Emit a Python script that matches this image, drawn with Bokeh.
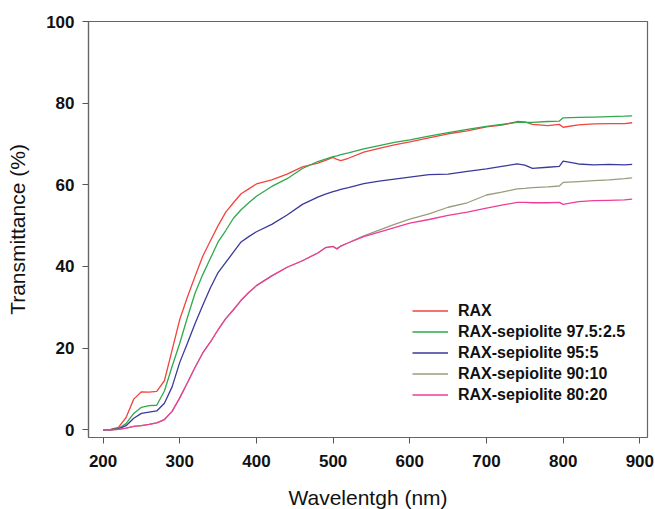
from bokeh.plotting import figure
from bokeh.models import Range1d, Legend, LegendItem, FixedTicker
from bokeh.embed import file_html
from bokeh.resources import INLINE

wavelength = [200, 210, 220, 230, 240, 250, 260, 270, 280, 290, 300, 310, 320, 330, 340,
              350, 360, 370, 380, 390, 400, 420, 440, 460, 480, 490, 500, 505, 510, 520,
              540, 560, 580, 600, 625, 650, 675, 700, 720, 740, 750, 760, 780, 795, 800,
              820, 840, 860, 880, 890]

rax = [0, 0.1, 0.6, 3.0, 7.5, 9.3, 9.2, 9.4, 12.0, 19.5, 27.0, 32.5, 37.6, 42.5, 46.3,
       50.0, 53.3, 55.6, 57.8, 59.0, 60.2, 61.2, 62.6, 64.4, 65.3, 66.0, 66.7, 66.2, 65.9, 66.5,
       68.0, 68.9, 69.8, 70.5, 71.5, 72.5, 73.2, 74.2, 74.6, 75.5, 75.4, 74.8, 74.5, 74.8, 74.1,
       74.7, 74.9, 75.0, 75.0, 75.2]

sep_97_5 = [0, 0, 0.3, 1.5, 4.0, 5.5, 5.9, 6.0, 9.5, 15.5, 21.2, 27.5, 33.5, 38.0, 42.0,
            46.0, 48.8, 51.8, 53.9, 55.6, 57.2, 59.6, 61.5, 64.0, 65.7, 66.3, 66.9, 67.1, 67.4, 67.8,
            68.8, 69.6, 70.4, 71.0, 71.9, 72.8, 73.6, 74.3, 74.8, 75.3, 75.3, 75.3, 75.5, 75.6, 76.4,
            76.5, 76.6, 76.7, 76.8, 76.9]

sep_95 = [0, 0, 0.2, 1.0, 2.8, 4.0, 4.3, 4.6, 6.5, 10.5, 16.5, 21.2, 26.0, 30.5, 34.8,
          38.5, 41.0, 43.5, 46.0, 47.3, 48.5, 50.3, 52.6, 55.2, 57.0, 57.7, 58.3, 58.6, 58.9, 59.3,
          60.3, 60.9, 61.4, 61.9, 62.5, 62.6, 63.3, 63.9, 64.5, 65.1, 64.8, 64.0, 64.3, 64.5, 65.8,
          65.1, 64.9, 65.0, 64.9, 65.0]

sep_90 = [0, 0, 0.1, 0.4, 0.8, 1.0, 1.3, 1.7, 2.5, 4.5, 7.8, 11.5, 15.3, 18.8, 21.5,
          24.5, 27.2, 29.4, 31.7, 33.6, 35.3, 37.7, 39.8, 41.4, 43.3, 44.6, 44.9, 44.3, 45.0, 45.8,
          47.5, 48.9, 50.3, 51.6, 52.9, 54.5, 55.6, 57.5, 58.2, 59.0, 59.1, 59.3, 59.5, 59.7, 60.6,
          60.8, 61.0, 61.2, 61.5, 61.7]

sep_80 = [0, 0, 0.1, 0.4, 0.8, 1.0, 1.3, 1.7, 2.5, 4.5, 7.8, 11.5, 15.3, 18.8, 21.5,
          24.5, 27.2, 29.4, 31.7, 33.6, 35.3, 37.7, 39.8, 41.4, 43.3, 44.6, 44.9, 44.3, 45.0, 45.8,
          47.3, 48.4, 49.5, 50.6, 51.5, 52.5, 53.3, 54.3, 55.0, 55.7, 55.7, 55.6, 55.6, 55.7, 55.2,
          55.9, 56.1, 56.2, 56.3, 56.5]

labels = ["RAX", "RAX-sepiolite 97.5:2.5", "RAX-sepiolite 95:5",
          "RAX-sepiolite 90:10", "RAX-sepiolite 80:20"]
series = [rax, sep_97_5, sep_95, sep_90, sep_80]
colors = ["#f2453f", "#2fa84e", "#3a3a9c", "#9c9c7c", "#ee3d98"]

x_ticks = [200, 300, 400, 500, 600, 700, 800, 900]
y_ticks = [0, 20, 40, 60, 80, 100]

p = figure(frame_width=559, frame_height=416, output_backend="svg", toolbar_location=None,
           x_range=Range1d(181, 910), y_range=Range1d(-1.9, 100),
           min_border_left=88, min_border_right=8, min_border_top=21, min_border_bottom=60)
p.background_fill_color = "white"
p.border_fill_color = "white"
p.outline_line_color = "#666666"
p.outline_line_width = 1.2
p.xgrid.visible = False
p.ygrid.visible = False

items = []
for lab, ys, c in zip(labels, series, colors):
    r = p.line(wavelength, ys, line_color=c, line_width=1.3)
    items.append(LegendItem(label=lab, renderers=[r]))

legend = Legend(items=items, location=(324, 32), border_line_color=None,
                background_fill_alpha=0, padding=0, margin=0, spacing=0,
                glyph_width=36, glyph_height=21, label_height=21, label_standoff=10,
                label_text_font="Liberation Sans", label_text_font_style="bold",
                label_text_font_size="16px", label_text_color="#111111")
p.add_layout(legend, "center")

for ax, ticks in ((p.xaxis, x_ticks), (p.yaxis, y_ticks)):
    ax.ticker = FixedTicker(ticks=ticks)
    ax.minor_tick_line_color = None
    ax.major_tick_in = 0
    ax.major_tick_out = 6
    ax.major_tick_line_color = "#555555"
    ax.axis_line_color = "#666666"
    ax.axis_line_width = 1.2
    ax.major_label_text_font = "Liberation Sans"
    ax.major_label_text_font_style = "bold"
    ax.major_label_text_font_size = "17px"
    ax.major_label_text_color = "#111111"
    ax.axis_label_text_font = "Liberation Sans"
    ax.axis_label_text_font_style = "normal"
    ax.axis_label_text_color = "#111111"

p.xaxis.axis_label = "Wavelentgh (nm)"
p.xaxis.axis_label_text_font_size = "21px"
p.xaxis.major_label_standoff = 11
p.xaxis.axis_label_standoff = 16
p.yaxis.axis_label = "Transmittance (%)"
p.yaxis.axis_label_text_font_size = "21px"
p.yaxis.major_label_standoff = 8
p.yaxis.axis_label_standoff = 14

open("out.html", "w").write(file_html(p, INLINE))
